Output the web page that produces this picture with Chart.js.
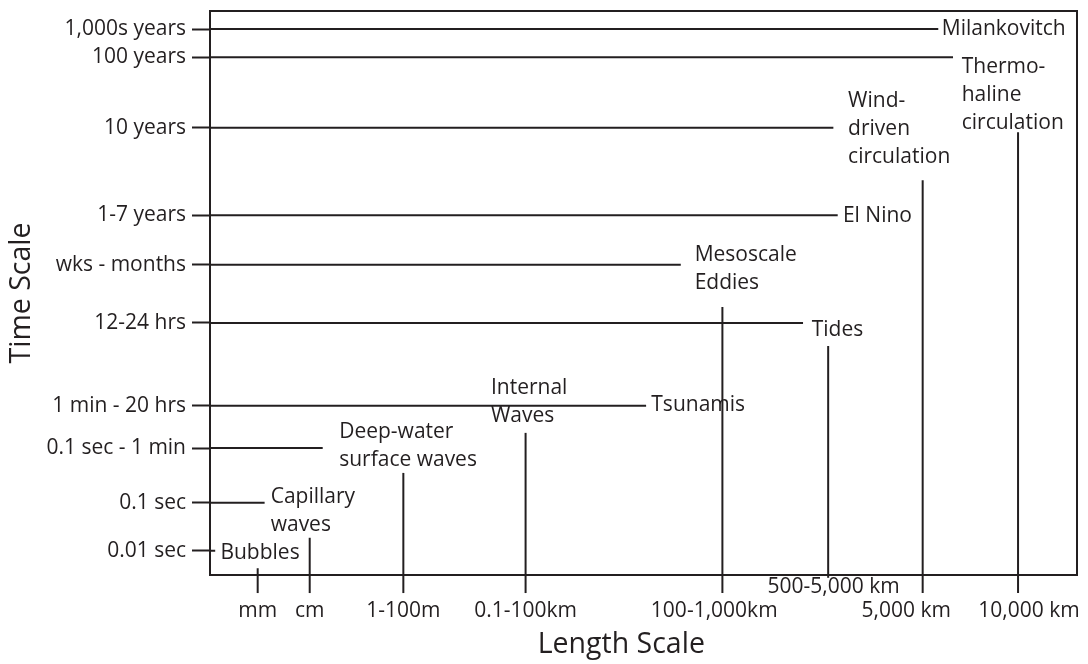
<!DOCTYPE html>
<html>
<head>
<meta charset="utf-8">
<script src="https://cdn.jsdelivr.net/npm/chart.js"></script>
<style>
  html, body { margin: 0; padding: 0; background: #fff; }
  #wrap { width: 1088px; height: 664px; }
</style>
</head>
<body>
<div id="wrap"><canvas id="myChart"></canvas></div>
<script>
// time scale (y): 0 = bottom of the frame, 100 = top
const timeLabels = ['0.01 sec', '0.1 sec', '0.1 sec - 1 min', '1 min - 20 hrs', '12-24 hrs',
                    'wks - months', '1-7 years', '10 years', '100 years', '1,000s years'];
const timeLevels = [4.3, 12.8, 22.5, 30.0, 44.7, 55.0, 63.8, 79.3, 91.8, 96.8];
// how far right each time line runs (x units)
const timeReach = [0.6, 6.3, 13.0, 50.3, 68.4, 54.3, 72.4, 71.9, 85.7, 84.0];

// length scale (x): 0 = left of the frame, 100 = right
const lengthLabels = ['mm', 'cm', '1-100m', '0.1-100km', '100-1,000km', '500-5,000 km', '5,000 km', '10,000 km'];
const lengthLevels = [5.5, 11.5, 22.3, 36.4, 59.1, 71.3, 82.2, 93.2];
// how far up each length line runs, and where it starts below the axis (y units)
const lengthReach = [1.2, 6.6, 18.1, 25.2, 47.5, 40.6, 70.0, 78.5];
const lengthStart = [-3.2, -3.2, -3.2, -3.2, -3.2, -0.5, -3.2, -3.2];

// phenomena names
const notes = [
  { text: ['Milankovitch'], x: 84.4, y: 96.8 },
  { text: ['Thermo-', 'haline', 'circulation'], x: 86.7, y: 90.1 },
  { text: ['Wind-', 'driven', 'circulation'], x: 73.6, y: 84.0 },
  { text: ['El Nino'], x: 73.0, y: 63.7 },
  { text: ['Mesoscale', 'Eddies'], x: 55.9, y: 56.7 },
  { text: ['Tides'], x: 69.4, y: 43.4 },
  { text: ['Tsunamis'], x: 50.9, y: 30.1 },
  { text: ['Internal', 'Waves'], x: 32.4, y: 33.2 },
  { text: ['Deep-water', 'surface waves'], x: 14.9, y: 25.4 },
  { text: ['Capillary', 'waves'], x: 7.0, y: 13.8 },
  { text: ['Bubbles'], x: 1.2, y: 3.9 }
];

const ink = '#231f20';
const fontFamily = "'Open Sans', sans-serif";
const sp = n => '\u00a0'.repeat(n);

// nudge a few bottom labels off-centre like the original
function lengthTick(label) {
  if (label === '500-5,000 km') return [sp(2) + label];
  if (label === '100-1,000km') return ['', label + sp(3)];
  if (label === '5,000 km') return ['', label + sp(6)];
  if (label === '10,000 km') return ['', sp(4) + label];
  return ['', label];
}

const datasets = [];
for (let i = 0; i < timeLevels.length; i++) {
  datasets.push({
    data: [{ x: 0, y: timeLevels[i] }, { x: timeReach[i], y: timeLevels[i] }],
    borderColor: ink, backgroundColor: ink, borderWidth: 2, pointRadius: 0
  });
}
for (let i = 0; i < lengthLevels.length; i++) {
  datasets.push({
    data: [{ x: lengthLevels[i], y: lengthStart[i] }, { x: lengthLevels[i], y: lengthReach[i] }],
    borderColor: ink, backgroundColor: ink, borderWidth: 2, pointRadius: 0
  });
}

const frameAndNotes = {
  id: 'frameAndNotes',
  afterDatasetsDraw(chart) {
    const { ctx, chartArea, scales } = chart;
    ctx.save();
    ctx.strokeStyle = ink;
    ctx.lineWidth = 2;
    ctx.strokeRect(chartArea.left, chartArea.top, chartArea.right - chartArea.left, chartArea.bottom - chartArea.top);
    ctx.fillStyle = ink;
    ctx.font = '21px ' + fontFamily;
    ctx.textAlign = 'left';
    ctx.textBaseline = 'middle';
    notes.forEach(n => {
      const px = scales.x.getPixelForValue(n.x);
      const py = scales.y.getPixelForValue(n.y);
      n.text.forEach((t, k) => ctx.fillText(t, px, py + k * 28));
    });
    ctx.restore();
  }
};

new Chart(document.getElementById('myChart'), {
  type: 'line',
  data: { datasets: datasets },
  options: {
    responsive: true,
    maintainAspectRatio: false,
    animation: false,
    clip: false,
    layout: { padding: { top: 11, right: 11, left: 0, bottom: 0 } },
    plugins: { legend: { display: false }, tooltip: { enabled: false }, colors: { enabled: false } },
    scales: {
      x: {
        type: 'linear',
        min: 0,
        max: 100,
        afterBuildTicks: axis => { axis.ticks = lengthLevels.map(v => ({ value: v })); },
        afterFit: axis => { axis.height = 89; axis.paddingLeft = 0; axis.paddingRight = 0; },
        border: { display: false },
        grid: { drawOnChartArea: false, drawTicks: false },
        ticks: {
          autoSkip: false,
          maxRotation: 0,
          minRotation: 0,
          padding: 0,
          color: ink,
          font: { family: fontFamily, size: 21, lineHeight: 1.14 },
          callback: v => lengthTick(lengthLabels[lengthLevels.indexOf(v)])
        },
        title: {
          display: true,
          text: 'Length Scale' + sp(6),
          color: ink,
          font: { family: fontFamily, size: 28.5, lineHeight: 1.2 },
          padding: { top: 4, bottom: 2 }
        }
      },
      y: {
        type: 'linear',
        min: 0,
        max: 100,
        afterBuildTicks: axis => { axis.ticks = timeLevels.map(v => ({ value: v })); },
        afterFit: axis => { axis.width = 210; axis.paddingTop = 0; axis.paddingBottom = 0; },
        border: { display: false },
        grid: { drawOnChartArea: false, drawTicks: true, tickLength: 18, tickColor: ink, tickWidth: 2 },
        ticks: {
          autoSkip: false,
          padding: 6,
          color: ink,
          font: { family: fontFamily, size: 21 },
          callback: v => timeLabels[timeLevels.indexOf(v)]
        },
        title: {
          display: true,
          text: 'Time Scale',
          color: ink,
          font: { family: fontFamily, size: 28.5, lineHeight: 1.2 },
          padding: { top: 5, bottom: 0 }
        }
      }
    }
  },
  plugins: [frameAndNotes]
});
</script>
</body>
</html>
